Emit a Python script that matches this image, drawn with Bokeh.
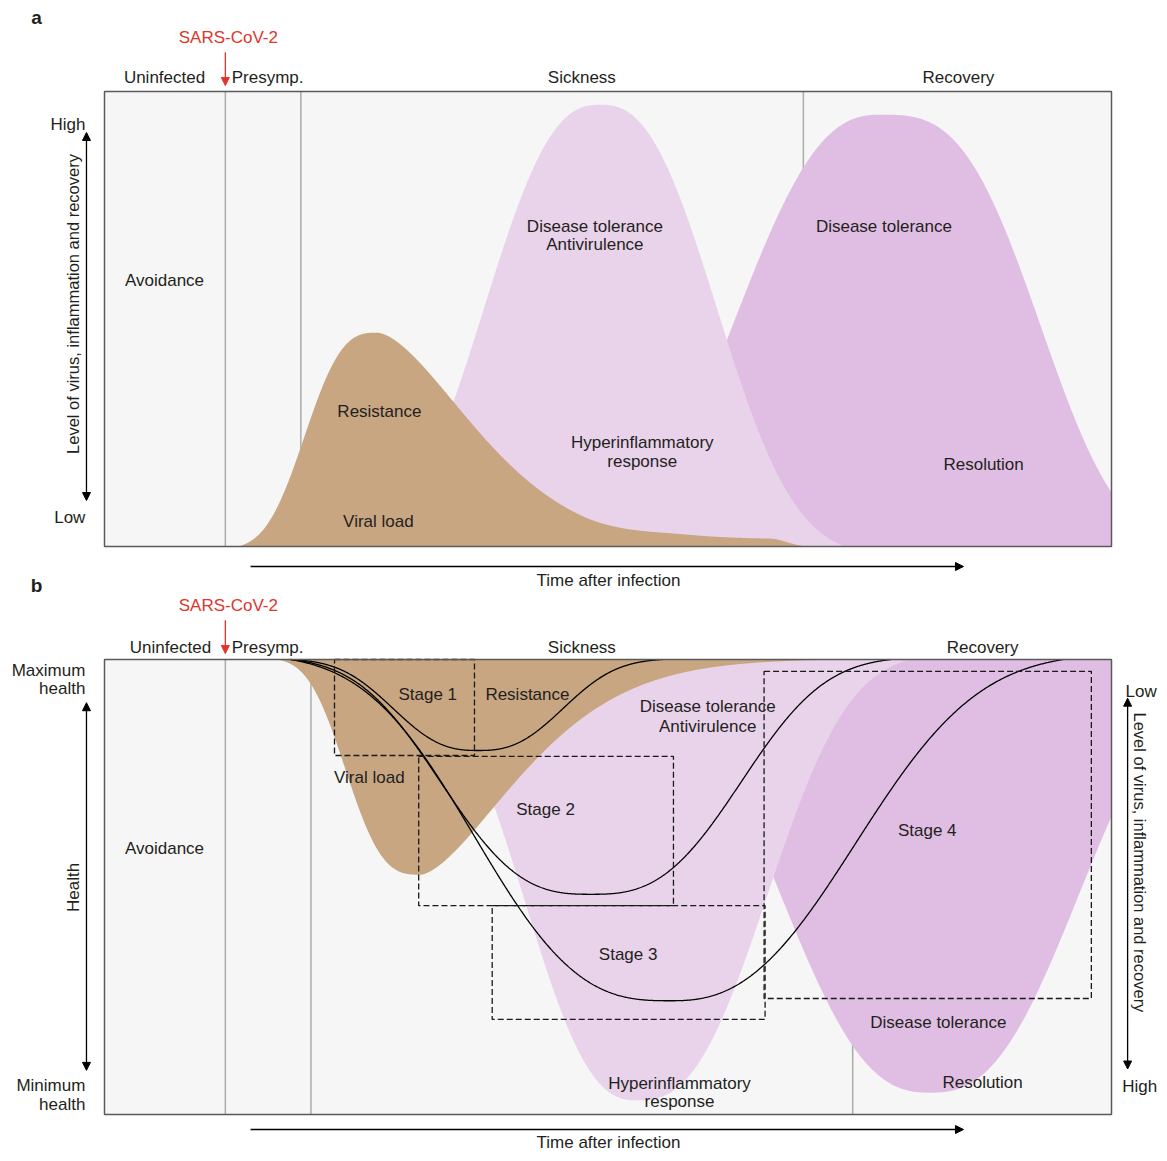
import numpy as np
from bokeh.plotting import figure
from bokeh.models import Range1d, Label, Arrow, NormalHead
from bokeh.embed import file_html
from bokeh.resources import INLINE

# ---------------- data (time after infection 0-100, level / health 0-100) ----------------
phases = ["Uninfected", "Presymp.", "Sickness", "Recovery"]
phase_center_a = [5.96, 16.2, 47.4, 84.8]
phase_center_b = [6.55, 16.2, 47.4, 87.2]
phase_bounds_a = [12.0, 19.5, 69.4]
phase_bounds_b = [12.0, 20.5, 74.3]
infection_time = 12.0

# response curves: [peak time, peak level, left width, left shape, right width, right shape, start, end]
viral_load_a = [27.1, 47.0, 8.4, 2.9, 13.5, 1.62, 13.3, 72.0]
viral_tail_a = [1.6, 47.0, 58.0, 66.0, 69.8]  # level, rise start, rise end, fall start, end
tolerance_a = [49.25, 97.1, 14.2, 2.5, 14.2, 2.5, 25.0, 73.5]
recovery_a = [77.06, 94.9, 17.9, 2.48, 18.1, 3.08, 50.0, 130.0]

viral_load_b = [31.4, 47.3, 8.55, 3.05, 13.6, 1.56, 17.2, 74.0]
tolerance_b = [52.9, 96.9, 13.7, 2.5, 15.6, 2.6, 25.0, 80.0]
recovery_b = [82.0, 95.2, 18.2, 2.54, 17.9, 2.56, 50.0, 130.0]

# health trajectories: [time of minimum, health loss, left width, left shape, right width, right shape, start, end]
health_stage1 = [37.1, 20.0, 10.2, 2.6, 10.2, 2.6, 18.5, 55.4]
health_stage2 = [48.3, 51.6, 17.5, 2.8, 17.5, 2.8, 18.5, 78.1]
health_stage3 = [56.2, 75.0, 22.8, 2.8, 22.5, 2.51, 18.5, 95.2]

stage_names = ["Stage 1", "Stage 2", "Stage 3", "Stage 4"]
stage_t_start = [22.84, 31.2, 38.5, 65.5]
stage_t_end = [36.74, 56.5, 65.6, 98.0]
stage_health_top = [100.0, 78.7, 45.9, 97.4]
stage_health_bottom = [78.9, 45.9, 20.9, 25.5]

# ---------------- styling ----------------
W, H = 1159, 1153
PX_T = 10.07      # pixels per time unit
PX_L = 4.55       # pixels per level unit
BROWN = "#c8a681"
PINK = "#e9d3eb"
PURPLE = "#e0bee4"
PANEL = "#f6f6f6"
FRAME = "#5a5a5a"
TXT = "#231f20"
RED = "#e0352b"
GRID = "#ababab"
FONT = "Liberation Sans"
FS = "17px"

# one canvas: panel a uses the default y range, panel b the "health" / "levelb" ranges
p = figure(width=W, height=H,
           x_range=Range1d(-104 / PX_T, (W - 104) / PX_T),
           y_range=Range1d(-(H - 546) / PX_L, 546 / PX_L),
           x_axis_type=None, y_axis_type=None, toolbar_location=None,
           output_backend="svg", min_border=0)
hb_lo, hb_hi = -(H - 1114) / PX_L, 1114 / PX_L
p.extra_y_ranges = {"health": Range1d(hb_lo, hb_hi), "levelb": Range1d(100 - hb_lo, 100 - hb_hi)}
p.outline_line_color = None
p.background_fill_color = "white"
p.border_fill_color = "white"

t = np.linspace(0, 100, 2500)


def bump(tt, tp, P, sL, kL, sR, kR, t0, t1):
    out = np.zeros_like(tt)
    for mask, s, k, tend in ((tt <= tp, sL, kL, t0), (tt > tp, sR, kR, t1)):
        g = np.exp(-(np.abs(tt[mask] - tp) / s) ** k)
        g0 = np.exp(-(abs(tend - tp) / s) ** k)
        out[mask] = P * np.clip((g - g0) / (1 - g0), 0, None)
    return out


def smoothstep(u):
    u = np.clip(u, 0, 1)
    return u * u * (3 - 2 * u)


def tail(tt, T, a, b, c, e):
    return T * smoothstep((tt - a) / (b - a)) * (1 - smoothstep((tt - c) / (e - c)))


def lab(x, y, text, align="center", size=FS, color=TXT, angle=0.0, bold=False, rng="default"):
    p.add_layout(Label(x=x, y=y, text=text, text_align=align, text_baseline="middle",
                       text_font=FONT, text_font_size=size, text_color=color, angle=angle,
                       text_font_style="bold" if bold else "normal", y_range_name=rng))


def arrow(x0, y0, x1, y1, color="black", width=1.3, rng="default"):
    p.add_layout(Arrow(x_start=x0, y_start=y0, x_end=x1, y_end=y1, y_range_name=rng,
                       line_color=color, line_width=width, start=None,
                       end=NormalHead(size=8, fill_color=color, line_color=color, line_width=1)))


# ================= panel a =================
p.quad(left=0, right=100, bottom=0, top=100, fill_color=PANEL, line_color=None)
p.segment(x0=phase_bounds_a, y0=0, x1=phase_bounds_a, y1=100, line_color=GRID, line_width=1.5)
p.varea(x=t, y1=0, y2=bump(t, *recovery_a), fill_color=PURPLE)
p.varea(x=t, y1=0, y2=bump(t, *tolerance_a), fill_color=PINK)
p.varea(x=t, y1=0, y2=bump(t, *viral_load_a) + tail(t, *viral_tail_a), fill_color=BROWN)
p.quad(left=0, right=100, bottom=0, top=100, fill_color=None, line_color=FRAME, line_width=1.5)

lab(-6.75, 116.3, "a", size="19px", bold=True)
lab(12.3, 111.9, "SARS-CoV-2", color=RED)
arrow(infection_time, 108.6, infection_time, 101.3, color=RED)
for name, c in zip(phases, phase_center_a):
    lab(c, 103.1, name)
lab(-1.9, 92.8, "High", align="right")
lab(-1.9, 6.4, "Low", align="right")
arrow(-1.79, 50, -1.79, 91.0)
arrow(-1.79, 50, -1.79, 10.1)
lab(-3.08, 53.3, "Level of virus, inflammation and recovery", angle=np.pi / 2, size="16.5px")
arrow(14.5, -4.4, 85.3, -4.4)
lab(50.05, -7.4, "Time after infection")

for txt, x, y in [("Avoidance", 5.96, 58.5), ("Disease tolerance", 48.7, 70.3),
                  ("Antivirulence", 48.7, 66.4), ("Disease tolerance", 77.4, 70.3),
                  ("Resistance", 27.3, 29.7), ("Viral load", 27.2, 5.5),
                  ("Hyperinflammatory", 53.4, 22.9), ("response", 53.4, 18.7),
                  ("Resolution", 87.3, 18.0)]:
    lab(x, y, txt)

# ================= panel b =================
HB = "health"
p.quad(left=0, right=100, bottom=0, top=100, fill_color=PANEL, line_color=None, y_range_name=HB)
p.segment(x0=phase_bounds_b, y0=0, x1=phase_bounds_b, y1=100, line_color=GRID, line_width=1.5,
          y_range_name=HB)
p.varea(x=t, y1=0, y2=bump(t, *recovery_b), fill_color=PURPLE, y_range_name="levelb")
p.varea(x=t, y1=0, y2=bump(t, *tolerance_b), fill_color=PINK, y_range_name="levelb")
p.varea(x=t, y1=0, y2=bump(t, *viral_load_b), fill_color=BROWN, y_range_name="levelb")

for hc in (health_stage1, health_stage2, health_stage3):
    tt = np.linspace(hc[6], hc[7], 900)
    p.line(x=tt, y=100 - bump(tt, *hc), line_color="black", line_width=1.3, y_range_name=HB)

p.quad(left=stage_t_start, right=stage_t_end, top=stage_health_top, bottom=stage_health_bottom,
       fill_color=None, line_color="#1a1a1a", line_width=1.3, line_dash="6 3", y_range_name=HB)
p.quad(left=0, right=100, bottom=0, top=100, fill_color=None, line_color=FRAME, line_width=1.5,
       y_range_name=HB)

lab(-6.75, 116.3, "b", size="19px", bold=True, rng=HB)
lab(12.3, 111.9, "SARS-CoV-2", color=RED, rng=HB)
arrow(infection_time, 108.6, infection_time, 101.3, color=RED, rng=HB)
for name, c in zip(phases, phase_center_b):
    lab(c, 102.6, name, rng=HB)
lab(-1.9, 97.6, "Maximum", align="right", rng=HB)
lab(-1.9, 93.6, "health", align="right", rng=HB)
lab(-1.9, 6.4, "Minimum", align="right", rng=HB)
lab(-1.9, 2.2, "health", align="right", rng=HB)
arrow(-1.79, 50, -1.79, 90.5, rng=HB)
arrow(-1.79, 50, -1.79, 9.7, rng=HB)
lab(-3.08, 49.9, "Health", angle=np.pi / 2, rng=HB)

arrow(101.6, 50, 101.6, 91.5, rng=HB)
arrow(101.6, 50, 101.6, 10.0, rng=HB)
lab(102.95, 93.0, "Low", rng=HB)
lab(102.8, 6.15, "High", rng=HB)
lab(102.8, 55.4, "Level of virus, inflammation and recovery", angle=-np.pi / 2, size="16.5px", rng=HB)
arrow(14.5, -3.3, 85.3, -3.3, rng=HB)
lab(50.05, -6.1, "Time after infection", rng=HB)

for txt, x, y in [("Stage 1", 32.1, 92.3), ("Resistance", 42.0, 92.3),
                  ("Disease tolerance", 59.9, 89.7), ("Antivirulence", 59.9, 85.3),
                  ("Viral load", 26.3, 74.1), ("Stage 2", 43.8, 67.0),
                  ("Stage 4", 81.7, 62.4), ("Avoidance", 5.96, 58.5),
                  ("Stage 3", 52.0, 35.2), ("Disease tolerance", 82.8, 20.2),
                  ("Hyperinflammatory", 57.1, 6.8), ("response", 57.1, 2.9),
                  ("Resolution", 87.2, 7.0)]:
    lab(x, y, txt, rng=HB)

open("out.html", "w").write(file_html(p, INLINE))
